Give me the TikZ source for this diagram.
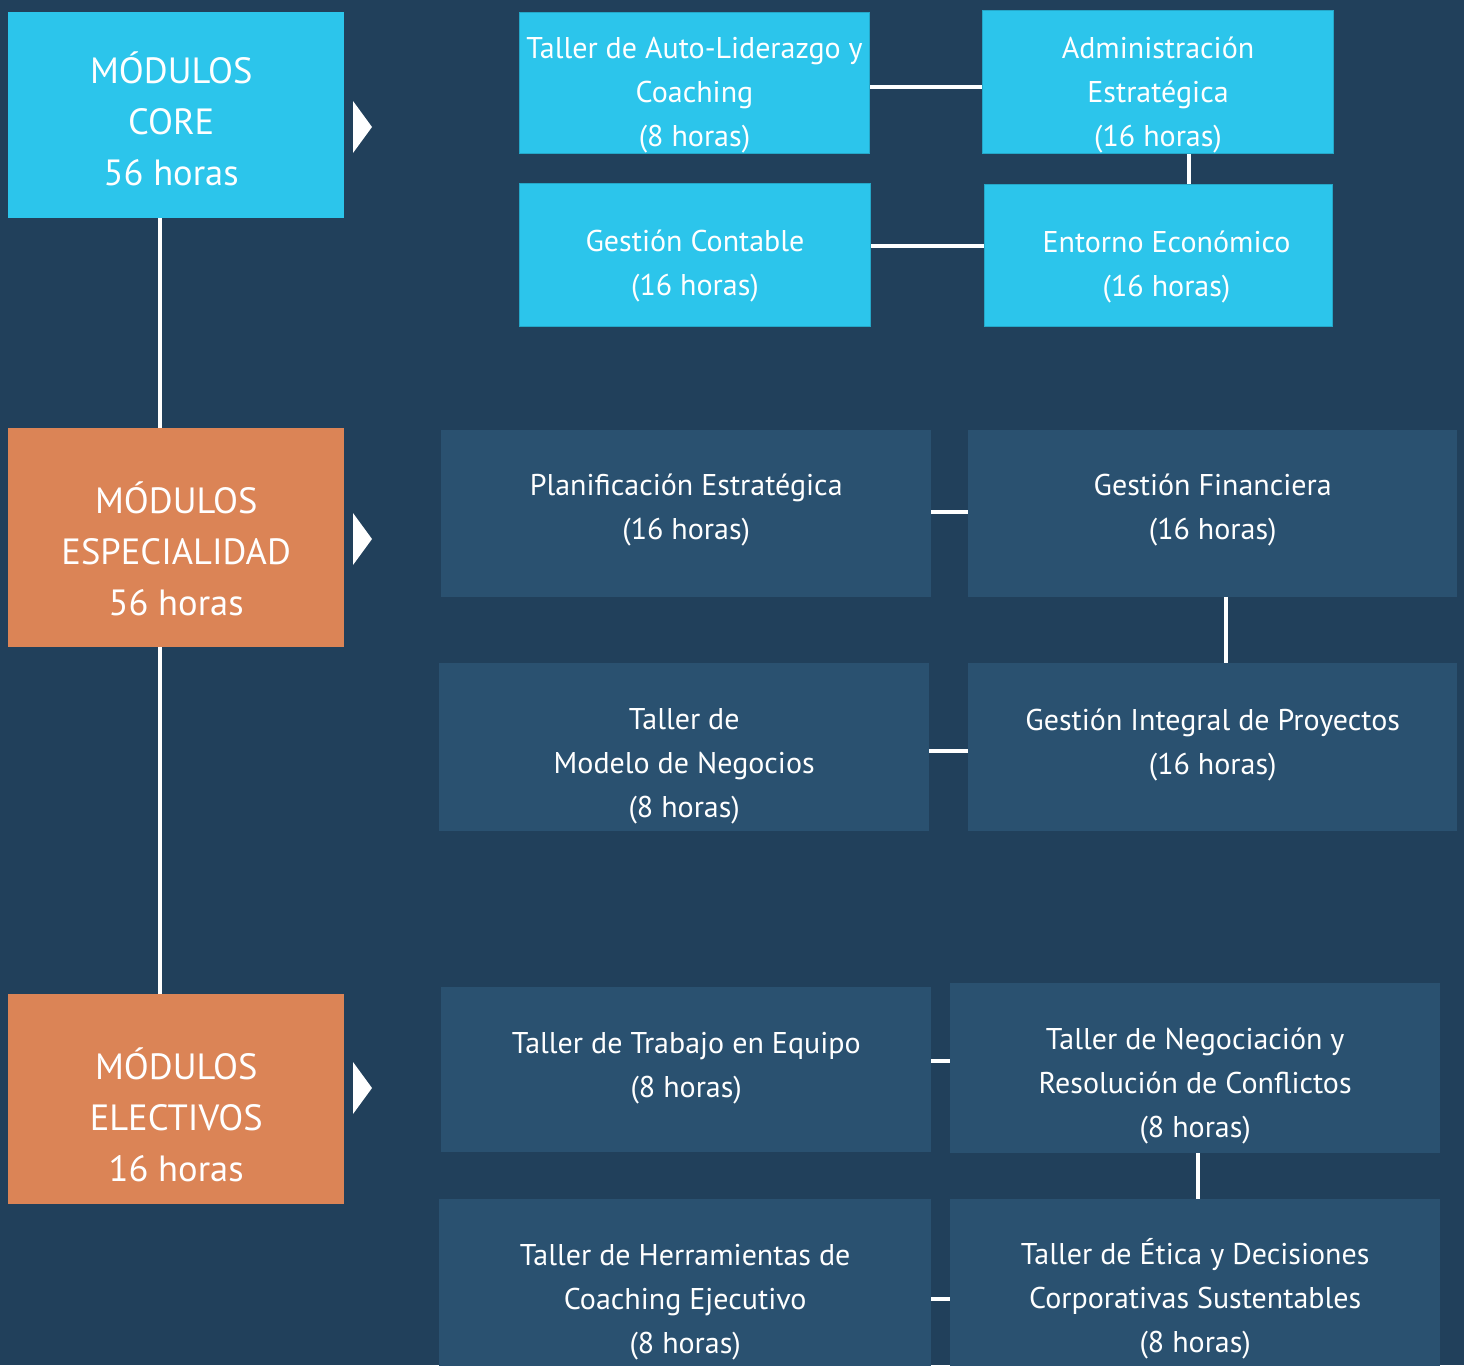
\documentclass[tikz,border=0pt]{standalone}
\usepackage{fontspec}
\setmainfont{PT Sans}
\usepackage{tikz}
\usetikzlibrary{positioning}
\definecolor{fondo}{RGB}{33,64,91}
\definecolor{celeste}{RGB}{44,197,235}
\definecolor{naranja}{RGB}{219,132,86}
\definecolor{azulcaja}{RGB}{42,81,112}

\tikzset{
  modulo/.style={fill=naranja, anchor=north west, inner sep=0pt},
  core/.style={fill=celeste, draw=celeste!85!black, line width=1pt,
    anchor=north west, inner sep=0pt},
  curso/.style={fill=azulcaja, anchor=north west, inner sep=0pt},
  titulo/.style={text=white, align=center, inner sep=0pt, font=\fontsize{36.5}{51}\selectfont},
  texto/.style={text=white, align=center, inner sep=0pt, font=\fontsize{30}{44}\selectfont},
  enlace/.style={draw=white, line width=4.5pt},
  flecha/.style={fill=white}
}

\begin{document}
\begin{tikzpicture}[x=1pt,y=-1pt]
    \useasboundingbox (0,0) rectangle (1464,1365);
    \fill[fondo] (0,0) rectangle (1464,1365);
    \clip (0,0) rectangle (1464,1365);

    % columna de modulos
    \node[modulo, fill=celeste, minimum width=336pt, minimum height=206pt] (mcore) at (8,12) {};
    \node[modulo, minimum width=336pt, minimum height=219pt] (mesp) at (8,428) {};
    \node[modulo, minimum width=336pt, minimum height=210pt] (melec) at (8,994) {};
    \node[titulo] (mcore-t) at ([shift={(-5,4)}]mcore.center) {MÓDULOS\\CORE\\56 horas};
    \node[titulo] (mesp-t) at ([shift={(0,11)}]mesp.center) {MÓDULOS\\ESPECIALIDAD\\56 horas};
    \node[titulo] (melec-t) at ([shift={(0,16)}]melec.center) {MÓDULOS\\ELECTIVOS\\16 horas};
    \draw[enlace, line width=4pt] (mcore.south -| 160,0) -- (mesp.north -| 160,0);
    \draw[enlace, line width=4pt] (mesp.south -| 160,0) -- (melec.north -| 160,0);

    % flechas
    \foreach \y in {127,539,1088}
        \fill[flecha] (353,\y-26) -- (372,\y) -- (353,\y+26) -- cycle;

    % core
    \node[core, minimum width=350pt, minimum height=141pt] (lider) at (519,12) {};
    \node[core, minimum width=351pt, minimum height=143pt] (contable) at (519,183) {};
    \node[core, minimum width=351pt, minimum height=143pt] (admin) at (982,10) {};
    \node[core, minimum width=348pt, minimum height=142pt] (entorno) at (984,184) {};
    \node[texto] (lider-t) at ([shift={(0,12)}]lider.center) {Taller de Auto-Liderazgo y\\Coaching\\(8 horas)};
    \node[texto] (contable-t) at ([shift={(0,11)}]contable.center) {Gestión Contable\\(16 horas)};
    \node[texto] (admin-t) at ([shift={(0,13)}]admin.center) {Administración\\Estratégica\\(16 horas)};
    \node[texto] (entorno-t) at ([shift={(8,11)}]entorno.center) {Entorno Económico\\(16 horas)};
    \draw[enlace] (lider.east |- 0,87) -- (admin.west |- 0,87);
    \draw[enlace] (admin.south -| 1189,0) -- (entorno.north -| 1189,0);
    \draw[enlace] (contable.east |- 0,246) -- (entorno.west |- 0,246);

    % especialidad
    \node[curso, minimum width=490pt, minimum height=167pt] (plan) at (441,430) {};
    \node[curso, minimum width=489pt, minimum height=167pt] (finan) at (968,430) {};
    \node[curso, minimum width=490pt, minimum height=168pt] (negocio) at (439,663) {};
    \node[curso, minimum width=489pt, minimum height=168pt] (proyectos) at (968,663) {};
    \node[texto] (plan-t) at ([shift={(0,-4)}]plan.center) {Planificación Estratégica\\(16 horas)};
    \node[texto] (finan-t) at ([shift={(0,-4)}]finan.center) {Gestión Financiera\\(16 horas)};
    \node[texto] (negocio-t) at ([shift={(0,19)}]negocio.center) {Taller de\\Modelo de Negocios\\(8 horas)};
    \node[texto] (proyectos-t) at ([shift={(0,-2)}]proyectos.center) {Gestión Integral de Proyectos\\(16 horas)};
    \draw[enlace] (plan.east |- 0,512) -- (finan.west |- 0,512);
    \draw[enlace] (finan.south -| 1226,0) -- (proyectos.north -| 1226,0);
    \draw[enlace] (negocio.east |- 0,751) -- (proyectos.west |- 0,751);

    % electivos
    \node[curso, minimum width=490pt, minimum height=165pt] (equipo) at (441,987) {};
    \node[curso, minimum width=490pt, minimum height=170pt] (negocia) at (950,983) {};
    \node[curso, minimum width=492pt, minimum height=190pt] (herram) at (439,1199) {};
    \node[curso, minimum width=490pt, minimum height=190pt] (etica) at (950,1199) {};
    \node[texto] (equipo-t) at ([shift={(0,-2)}]equipo.center) {Taller de Trabajo en Equipo\\(8 horas)};
    \node[texto] (negocia-t) at ([shift={(0,18)}]negocia.center) {Taller de Negociación y\\Resolución de Conflictos\\(8 horas)};
    \node[texto] (herram-t) at ([shift={(0,8)}]herram.center) {Taller de Herramientas de\\Coaching Ejecutivo\\(8 horas)};
    \node[texto] (etica-t) at ([shift={(0,5)}]etica.center) {Taller de Ética y Decisiones\\Corporativas Sustentables\\(8 horas)};
    \draw[enlace] (equipo.east |- 0,1061) -- (negocia.west |- 0,1061);
    \draw[enlace] (negocia.south -| 1198,0) -- (etica.north -| 1198,0);
    \draw[enlace] (herram.east |- 0,1299) -- (etica.west |- 0,1299);
\end{tikzpicture}
\end{document}
